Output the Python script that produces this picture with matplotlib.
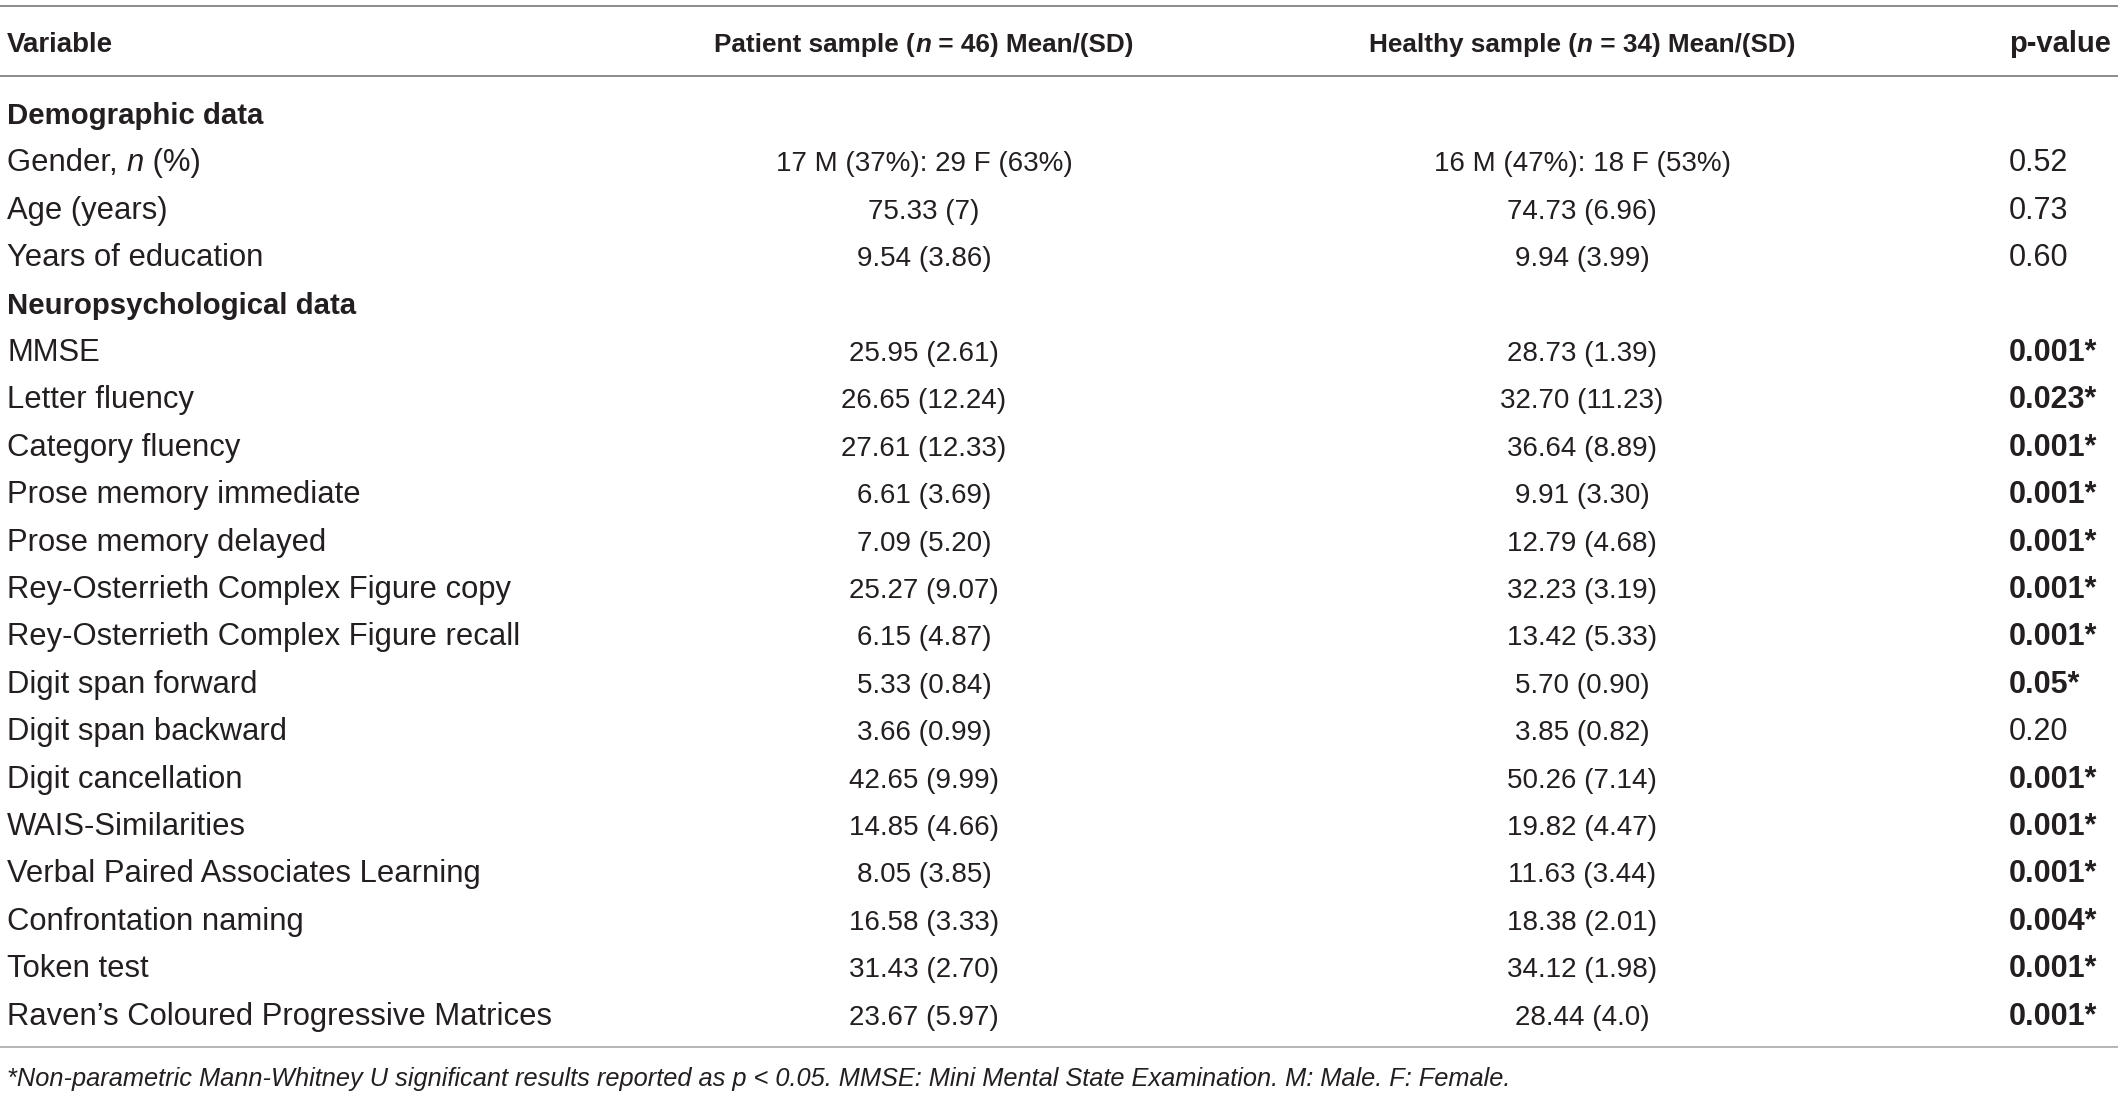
import matplotlib
matplotlib.use("Agg")
import matplotlib.pyplot as plt
from matplotlib.font_manager import FontProperties

# table content
header_cols = ["Variable", "Patient sample (n = 46) Mean/(SD)",
               "Healthy sample (n = 34) Mean/(SD)", "p-value"]

variables = ["Demographic data", "Gender, n (%)", "Age (years)", "Years of education",
             "Neuropsychological data", "MMSE", "Letter fluency", "Category fluency",
             "Prose memory immediate", "Prose memory delayed",
             "Rey-Osterrieth Complex Figure copy", "Rey-Osterrieth Complex Figure recall",
             "Digit span forward", "Digit span backward", "Digit cancellation",
             "WAIS-Similarities", "Verbal Paired Associates Learning",
             "Confrontation naming", "Token test",
             "Raven\u2019s Coloured Progressive Matrices"]
section_rows = [0, 4]

patient = ["", "17 M (37%): 29 F (63%)", "75.33 (7)", "9.54 (3.86)", "",
           "25.95 (2.61)", "26.65 (12.24)", "27.61 (12.33)", "6.61 (3.69)", "7.09 (5.20)",
           "25.27 (9.07)", "6.15 (4.87)", "5.33 (0.84)", "3.66 (0.99)", "42.65 (9.99)",
           "14.85 (4.66)", "8.05 (3.85)", "16.58 (3.33)", "31.43 (2.70)", "23.67 (5.97)"]

healthy = ["", "16 M (47%): 18 F (53%)", "74.73 (6.96)", "9.94 (3.99)", "",
           "28.73 (1.39)", "32.70 (11.23)", "36.64 (8.89)", "9.91 (3.30)", "12.79 (4.68)",
           "32.23 (3.19)", "13.42 (5.33)", "5.70 (0.90)", "3.85 (0.82)", "50.26 (7.14)",
           "19.82 (4.47)", "11.63 (3.44)", "18.38 (2.01)", "34.12 (1.98)", "28.44 (4.0)"]

pvals = ["", "0.52", "0.73", "0.60", "",
         "0.001*", "0.023*", "0.001*", "0.001*", "0.001*", "0.001*", "0.001*",
         "0.05*", "0.20", "0.001*", "0.001*", "0.001*", "0.004*", "0.001*", "0.001*"]

footnote = "*Non-parametric Mann-Whitney U significant results reported as p < 0.05. " \
           "MMSE: Mini Mental State Examination. M: Male. F: Female."

W, H = 2118, 1095
FAMILY = ["Liberation Sans", "DejaVu Sans"]
INK = "#231f20"

fig = plt.figure(figsize=(W / 100, H / 100), dpi=100)
ax = fig.add_axes([0, 0, 1, 1])
ax.set_xlim(0, W)
ax.set_ylim(H, 0)
ax.axis("off")
renderer = fig.canvas.get_renderer()


def run_width(s, weight, style, size):
    prop = FontProperties(family=FAMILY, size=size, weight=weight, style=style)
    w1 = renderer.get_text_width_height_descent(s + "x", prop, ismath=False)[0]
    w2 = renderer.get_text_width_height_descent("x", prop, ismath=False)[0]
    return w1 - w2


def draw_runs(x, y, runs, size, ha="left"):
    # runs: list of (text, weight, style)
    widths = [run_width(t, w, st, size) for t, w, st in runs]
    total = sum(widths)
    if ha == "center":
        x = x - total / 2
    for (t, w, st), wd in zip(runs, widths):
        ax.text(x, y, t, family=FAMILY, size=size, weight=w, style=st,
                color=INK, ha="left", va="baseline")
        x += wd


def split_n(s, weight):
    # italic "n" inside "(n = .." / ", n ("
    if " n " in s:
        a, b = s.split(" n ", 1)
        return [(a + " ", weight, "normal"), ("n", weight, "italic"), (" " + b, weight, "normal")]
    if "(n " in s:
        a, b = s.split("(n ", 1)
        return [(a + "(", weight, "normal"), ("n", weight, "italic"), (" " + b, weight, "normal")]
    return [(s, weight, "normal")]


x_var, x_pat, x_hea, x_p = 7, 924, 1582, 2009

# rules
ax.plot([0, W], [6, 6], color="#8c8c8c", lw=1.4, solid_capstyle="butt")
ax.plot([0, W], [76, 76], color="#8c8c8c", lw=1.4, solid_capstyle="butt")
ax.plot([0, W], [1047, 1047], color="#b4b4b4", lw=1.4, solid_capstyle="butt")

# header
hy = 52
draw_runs(x_var, hy, [(header_cols[0], "bold", "normal")], 20)
draw_runs(x_pat, hy, split_n(header_cols[1], "bold"), 18.8, ha="center")
draw_runs(x_hea, hy, split_n(header_cols[2], "bold"), 18.8, ha="center")
draw_runs(x_p, hy, [(header_cols[3], "bold", "normal")], 21)

# body
y0, step = 124, 47.4
for i, name in enumerate(variables):
    y = y0 + i * step
    if i in section_rows:
        draw_runs(x_var, y, [(name, "bold", "normal")], 21.2)
        continue
    draw_runs(x_var, y, split_n(name, "normal"), 22.3)
    draw_runs(x_pat, y, [(patient[i], "normal", "normal")], 20.0, ha="center")
    draw_runs(x_hea, y, [(healthy[i], "normal", "normal")], 20.0, ha="center")
    pw = "bold" if pvals[i].endswith("*") else "normal"
    draw_runs(x_p, y, [(pvals[i], pw, "normal")], 22)

ax.text(x_var, 1086, footnote, family=FAMILY, size=18.3, style="italic",
        color=INK, ha="left", va="baseline")

fig.savefig("out.png", dpi=100)
